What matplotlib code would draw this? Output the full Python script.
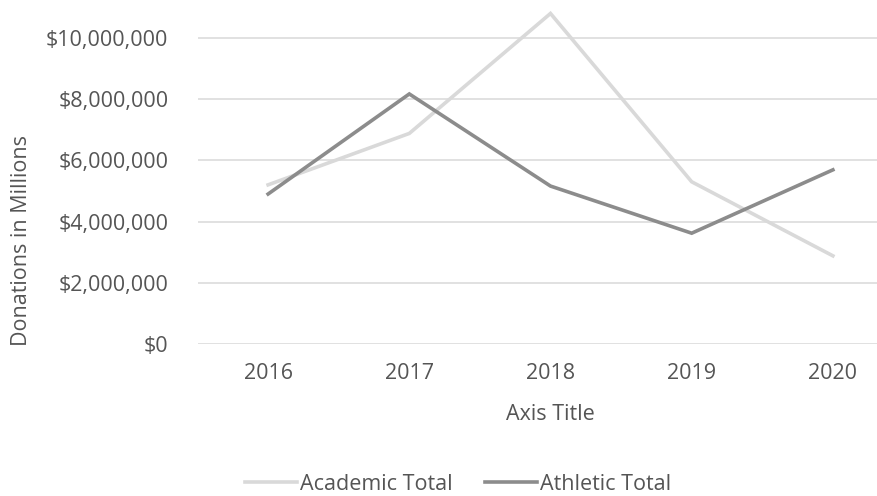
import matplotlib
matplotlib.use("Agg")
import matplotlib.pyplot as plt
from matplotlib.ticker import FuncFormatter

# Donations per year (USD)
years = ["2016", "2017", "2018", "2019", "2020"]
academic_total = [5_200_000, 6_880_000, 10_800_000, 5_300_000, 2_880_000]
athletic_total = [4_900_000, 8_170_000, 5_160_000, 3_620_000, 5_690_000]

TEXT = "#555555"
GRID = "#d9d9d9"
ACADEMIC = "#d9d9d9"
ATHLETIC = "#8c8c8c"
FS = 15.5

plt.rcParams["font.family"] = ["Open Sans", "DejaVu Sans"]

fig = plt.figure(figsize=(8.77, 4.96), dpi=100)
fig.patch.set_facecolor("white")
# plot area runs past the right edge, as in the cropped original
ax = fig.add_axes([0.2252, 0.3065, 0.805, 0.6935])

x = range(len(years))
ax.plot(x, academic_total, color=ACADEMIC, linewidth=2.6,
        solid_joinstyle="miter", label="Academic Total")
ax.plot(x, athletic_total, color=ATHLETIC, linewidth=2.6,
        solid_joinstyle="miter", label="Athletic Total")

ax.set_xlim(-0.5, 4.5)
ax.set_ylim(0, 11_240_000)
ax.set_xticks(list(x))
ax.set_xticklabels(years)
ax.set_yticks(range(0, 10_000_001, 2_000_000))
ax.yaxis.set_major_formatter(FuncFormatter(lambda v, _: f"${v:,.0f}"))

ax.grid(axis="y", color=GRID, linewidth=1.1)
ax.set_axisbelow(True)
for spine in ax.spines.values():
    spine.set_visible(False)
ax.tick_params(length=0, colors=TEXT, labelsize=FS)
ax.tick_params(axis="y", pad=21)
ax.tick_params(axis="x", pad=14)

fig.text(550 / 877, 1 - 415 / 496, "Axis Title", ha="center", va="center",
         color=TEXT, fontsize=FS)
fig.text(22 / 877, 1 - 241 / 496, "Donations in Millions", ha="center",
         va="center", rotation=90, color=TEXT, fontsize=FS)

fig.legend(loc="center", bbox_to_anchor=(458 / 877, 1 - 484 / 496), ncol=2,
           frameon=False, fontsize=FS, labelcolor=TEXT, handlelength=2.4,
           handletextpad=0.15, columnspacing=1.5)

fig.savefig("out.png", dpi=100)
